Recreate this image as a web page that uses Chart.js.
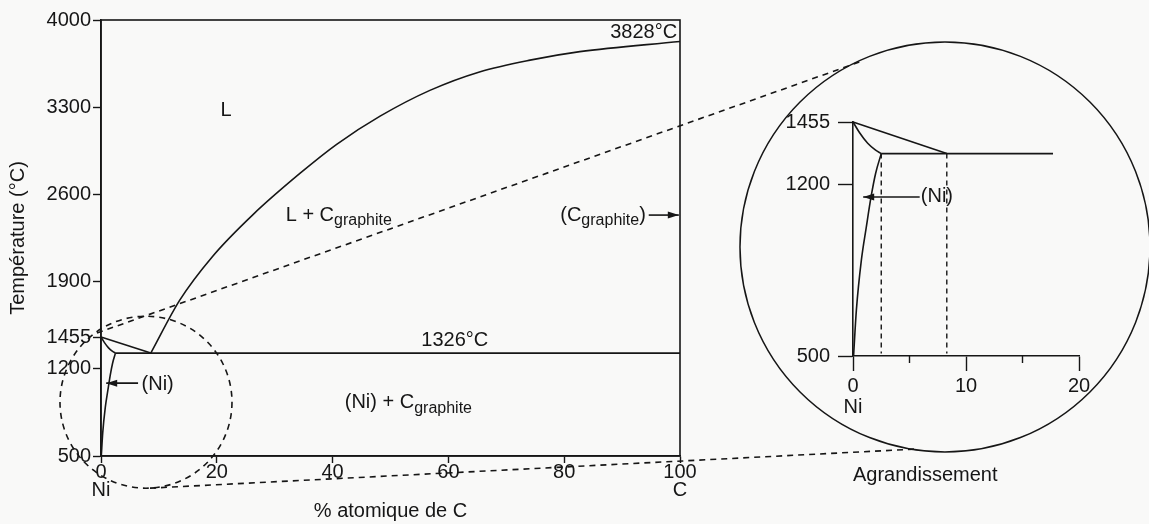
<!DOCTYPE html>
<html><head><meta charset="utf-8">
<script src="https://cdn.jsdelivr.net/npm/chart.js@4.4.1/dist/chart.umd.min.js"></script>
<style>
html,body{margin:0;padding:0;background:#f9f9f8;}
#wrap{position:relative;width:1149px;height:524px;overflow:hidden;}
#main{position:absolute;left:0;top:0;}
#inset{position:absolute;left:760px;top:90px;}
</style></head><body>
<div id="wrap"><canvas id="main" width="1149" height="524"></canvas><canvas id="inset" width="360" height="400"></canvas></div>
<script>
// ---------- data ----------
const mainXTicks = [0, 20, 40, 60, 80, 100];
const mainYTicks = [500, 1200, 1455, 1900, 2600, 3300, 4000];
const insetXTicks = [0, 10, 20];
const insetXMinor = [5, 15];
const insetYTicks = [500, 1200, 1455];

// % at. C , temperature °C
const liquidusC  = [[8.6,1326],[13.6,1751],[19.3,2104],[26.3,2440],[34.4,2770],[40.7,3002],[48.2,3228],[56.8,3435],[65.5,3585],[74.1,3678],[82.7,3746],[100,3828]];
const liquidusNi = [[0,1455],[8.6,1326]];
const eutectic   = [[2.5,1326],[100,1326]];
const solidusNi  = [[0,1455],[0.6,1410],[1.3,1368],[2.0,1340],[2.5,1326]];
const solvusNi   = [[0.05,500],[0.3,688],[0.74,891],[1.18,1027],[1.6,1150],[2.0,1245],[2.5,1326]];
const insetLiquidusNi = [[0,1455],[8.3,1326]];
const insetEutectic   = [[2.5,1326],[17.7,1326]];
const limitNi  = [[2.5,1326],[2.5,510]];
const limitEut = [[8.3,1326],[8.3,510]];

// ---------- styles / annotations ----------
const ink = '#161616';
const FAM = '"Liberation Sans", Arial, Helvetica, sans-serif';
const MAINF = '20px ' + FAM;
const SUBF = '16px ' + FAM;
Chart.defaults.font.family = FAM;
Chart.defaults.color = ink;

const mainLabels = [
  {x:21.6, y:3271, parts:[['L']], align:'center'},
  {x:99.5, y:3896, parts:[['3828°C']], align:'right'},
  {x:31.9, y:2434, parts:[['L + C'],['graphite',1]], align:'left'},
  {x:94.1, y:2434, parts:[['(C'],['graphite',1],[')']], align:'right'},
  {x:61.1, y:1430, parts:[['1326°C']], align:'center'},
  {x:42.1, y:930, parts:[['(Ni) + C'],['graphite',1]], align:'left'},
  {x:7.0, y:1075, parts:[['(Ni)']], align:'left'}
];
const mainArrows = [ {x1:94.6, x2:99.8, y:2434}, {x1:6.4, x2:0.9, y:1085} ];
const insetLabels = [ {x:6.0, y:1149, parts:[['(Ni)']], align:'left'} ];
const insetArrows = [ {x1:5.9, x2:0.9, y:1149} ];
const zoomCircle = {x:7.77, y:932, r:86};       // main-chart coords
const bigCircle  = {x:8.14, y:945, r:205};      // inset coords
const connectors = [
  {from:[-0.69,1487], to:[0.59,1700]},
  {from:[8.46,242],   to:[5.47,120]}
];

function pts(a){ return a.map(([x,y])=>({x,y})); }
function line(a, o){ return Object.assign({data:pts(a), showLine:true, pointRadius:0, borderColor:ink, borderWidth:1.6, fill:false, clip:false}, o||{}); }

function drawText(ctx, parts, px, py, align){
  const w = parts.map(([t,s])=>{ ctx.font = s?SUBF:MAINF; return ctx.measureText(t).width; });
  const tot = w.reduce((a,b)=>a+b,0);
  let x = align==='right' ? px-tot : align==='center' ? px-tot/2 : px;
  ctx.textBaseline='middle'; ctx.textAlign='left'; ctx.fillStyle=ink;
  parts.forEach(([t,s],i)=>{ ctx.font = s?SUBF:MAINF; ctx.fillText(t, x, py+(s?6:0)); x+=w[i]; });
}
function drawArrow(ctx, x1, x2, y){
  ctx.save(); ctx.strokeStyle=ink; ctx.fillStyle=ink; ctx.lineWidth=1.6;
  ctx.beginPath(); ctx.moveTo(x1,y); ctx.lineTo(x2,y); ctx.stroke();
  const d = x2>x1?1:-1;
  ctx.beginPath(); ctx.moveTo(x2,y); ctx.lineTo(x2-d*11,y-3.5); ctx.lineTo(x2-d*11,y+3.5); ctx.closePath(); ctx.fill();
  ctx.restore();
}

const insetPlugin = {
  id:'insetDeco',
  afterDraw(chart){
    const {ctx, scales:{x,y}} = chart;
    ctx.save(); ctx.strokeStyle=ink; ctx.lineWidth=1.4;
    insetXMinor.forEach(v=>{ const p=x.getPixelForValue(v); ctx.beginPath(); ctx.moveTo(p,y.bottom); ctx.lineTo(p,y.bottom+7); ctx.stroke(); });
    ctx.restore();
    insetLabels.forEach(l=>drawText(ctx,l.parts,x.getPixelForValue(l.x),y.getPixelForValue(l.y),l.align));
    insetArrows.forEach(a=>drawArrow(ctx,x.getPixelForValue(a.x1),x.getPixelForValue(a.x2),y.getPixelForValue(a.y)));
  }
};

const insetChart = new Chart(document.getElementById('inset'), {
  type:'scatter',
  data:{datasets:[
    line(insetLiquidusNi),
    line(solidusNi,{cubicInterpolationMode:'monotone'}),
    line(solvusNi,{cubicInterpolationMode:'monotone'}),
    line(insetEutectic),
    line(limitNi,{borderDash:[5,4],borderWidth:1.4}),
    line(limitEut,{borderDash:[5,4],borderWidth:1.4})
  ]},
  options:{
    responsive:false, animation:false, events:[],
    plugins:{legend:{display:false}, tooltip:{enabled:false}},
    layout:{padding:{left:0,right:41,top:32,bottom:0}},
    scales:{
      x:{type:'linear', min:0, max:20,
        afterBuildTicks:s=>{ s.ticks = insetXTicks.map(v=>({value:v})); },
        afterFit:s=>{ s.height = 134; },
        ticks:{padding:5, autoSkip:false, maxRotation:0, font:{size:20, lineHeight:1.05}, callback:v=> v===0?['0','Ni']:String(v)},
        grid:{drawOnChartArea:false, drawTicks:true, tickLength:15, tickColor:ink, tickWidth:1.4},
        border:{display:true, color:ink, width:1.6},
        title:{display:true, text:'Agrandissement', align:'start', font:{size:20}, padding:{top:0,bottom:3}}
      },
      y:{type:'linear', min:500, max:1455,
        afterBuildTicks:s=>{ s.ticks = insetYTicks.map(v=>({value:v})); },
        afterFit:s=>{ s.width = 93; },
        ticks:{padding:8, autoSkip:false, font:{size:20}, callback:v=>String(v)},
        grid:{drawOnChartArea:false, drawTicks:true, tickLength:15, tickColor:ink, tickWidth:1.4},
        border:{display:true, color:ink, width:1.6}
      }
    }
  },
  plugins:[insetPlugin]
});

const INSET_OFF = {x:760, y:90};

const mainPlugin = {
  id:'mainDeco',
  afterDraw(chart){
    const {ctx, chartArea:ca, scales:{x,y}} = chart;
    ctx.save(); ctx.strokeStyle=ink; ctx.lineWidth=1.6;
    ctx.strokeRect(ca.left, ca.top, ca.right-ca.left, ca.bottom-ca.top);
    ctx.restore();
    mainLabels.forEach(l=>drawText(ctx,l.parts,x.getPixelForValue(l.x),y.getPixelForValue(l.y),l.align));
    mainArrows.forEach(a=>drawArrow(ctx,x.getPixelForValue(a.x1),x.getPixelForValue(a.x2),y.getPixelForValue(a.y)));
    const ix = insetChart.scales.x, iy = insetChart.scales.y;
    const ipx = v=>ix.getPixelForValue(v)+INSET_OFF.x, ipy = v=>iy.getPixelForValue(v)+INSET_OFF.y;
    ctx.save(); ctx.strokeStyle=ink; ctx.lineWidth=1.6;
    ctx.setLineDash([6,5]);
    ctx.beginPath(); ctx.arc(x.getPixelForValue(zoomCircle.x), y.getPixelForValue(zoomCircle.y), zoomCircle.r, 0, Math.PI*2); ctx.stroke();
    connectors.forEach(c=>{
      ctx.beginPath();
      ctx.moveTo(x.getPixelForValue(c.from[0]), y.getPixelForValue(c.from[1]));
      ctx.lineTo(ipx(c.to[0]), ipy(c.to[1]));
      ctx.stroke();
    });
    ctx.setLineDash([]);
    ctx.lineWidth=1.5;
    ctx.beginPath(); ctx.arc(ipx(bigCircle.x), ipy(bigCircle.y), bigCircle.r, 0, Math.PI*2); ctx.stroke();
    ctx.restore();
  }
};

new Chart(document.getElementById('main'), {
  type:'scatter',
  data:{datasets:[
    line(liquidusC,{cubicInterpolationMode:'monotone'}),
    line(liquidusNi),
    line(solidusNi,{cubicInterpolationMode:'monotone'}),
    line(solvusNi,{cubicInterpolationMode:'monotone'}),
    line(eutectic)
  ]},
  options:{
    responsive:false, animation:false, events:[],
    plugins:{legend:{display:false}, tooltip:{enabled:false}},
    layout:{padding:{left:0,right:469,top:20,bottom:0}},
    scales:{
      x:{type:'linear', min:0, max:100,
        afterBuildTicks:s=>{ s.ticks = mainXTicks.map(v=>({value:v})); },
        afterFit:s=>{ s.height = 68; },
        ticks:{padding:0, autoSkip:false, maxRotation:0, font:{size:20, lineHeight:0.9},
          callback:v=> v===0?['0','Ni']: v===100?['100','C']:String(v)},
        grid:{drawOnChartArea:false, drawTicks:true, tickLength:7, tickColor:ink, tickWidth:1.4},
        border:{display:true, color:ink, width:1.6},
        title:{display:true, text:'% atomique de C', font:{size:20}, padding:{top:0,bottom:1}}
      },
      y:{type:'linear', min:500, max:4000,
        afterBuildTicks:s=>{ s.ticks = mainYTicks.map(v=>({value:v})); },
        afterFit:s=>{ s.width = 101; },
        ticks:{padding:2, autoSkip:false, font:{size:20}, callback:v=>String(v)},
        grid:{drawOnChartArea:false, drawTicks:true, tickLength:8, tickColor:ink, tickWidth:1.4},
        border:{display:true, color:ink, width:1.6},
        title:{display:true, text:'Température (°C)', font:{size:20}, padding:{top:6,bottom:0}}
      }
    }
  },
  plugins:[mainPlugin]
});
</script>
</body></html>
